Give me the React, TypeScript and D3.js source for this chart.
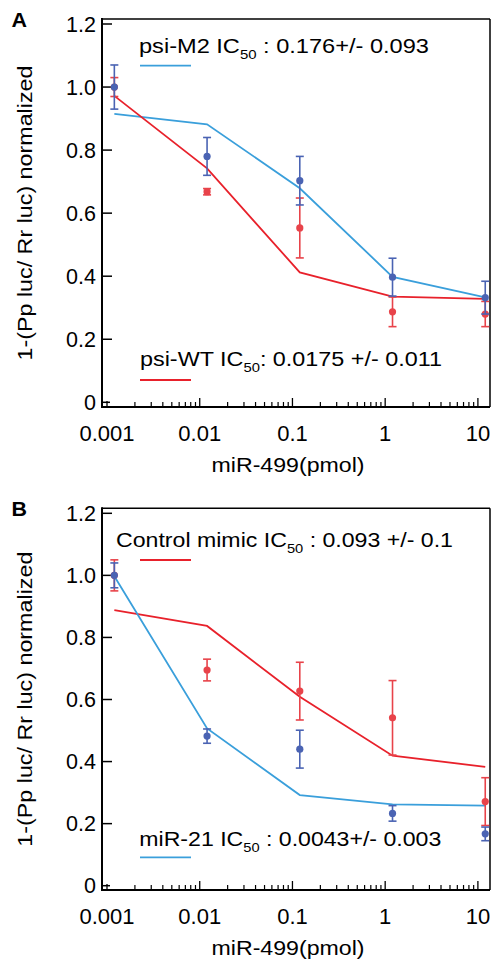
import React from "react";
import * as d3 from "d3";

const doses = [0.0012, 0.012, 0.12, 1.2, 12];
const xTickValues = [0.001, 0.01, 0.1, 1, 10];
const xTickLabels = ["0.001", "0.01", "0.1", "1", "10"];
const yTickValues = [0, 0.2, 0.4, 0.6, 0.8, 1.0, 1.2];
const yTickLabels = ["0", "0.2", "0.4", "0.6", "0.8", "1.0", "1.2"];

// Panel A
const aM2Mean = [1.0, 0.78, 0.703, 0.397, 0.332];
const aM2Err = [0.07, 0.06, 0.077, 0.06, 0.052];
const aM2Fit = [0.915, 0.882, 0.679, 0.398, 0.333];
const aWTMean = [1.0, 0.668, 0.553, 0.287, 0.28];
const aWTErr = [0.03, 0.01, 0.095, 0.047, 0.04];
const aWTFit = [0.972, 0.742, 0.412, 0.335, 0.328];

// Panel B
const bCtrlMean = [1.0, 0.695, 0.627, 0.541, 0.271];
const bCtrlErr = [0.05, 0.035, 0.093, 0.12, 0.077];
const bCtrlFit = [0.888, 0.837, 0.609, 0.419, 0.383];
const bMiR21Mean = [1.0, 0.482, 0.44, 0.233, 0.167];
const bMiR21Err = [0.04, 0.023, 0.061, 0.025, 0.022];
const bMiR21Fit = [0.997, 0.507, 0.292, 0.262, 0.258];

const FONT = "'Liberation Sans', Arial, Helvetica, sans-serif";
const LINE_BLUE = "#3a9fdb";
const PT_BLUE = "#4a63b3";
const LINE_RED = "#e8212b";
const PT_RED = "#e8434a";

type Series = { mean: number[]; err: number[]; color: string };
type Legend = { pre: string; post: string; color: string; tx: number; ty: number; tw: number; lx: number; ly: number };

function Panel(props: {
  label: string;
  frameTop: number;
  axisY: number;
  y0: number;
  y12: number;
  fits: { values: number[]; color: string }[];
  series: Series[];
  legends: Legend[];
}) {
  const { label, frameTop, axisY, y0, y12, fits, series, legends } = props;
  const left = 102;
  const right = 490;
  const x = d3.scaleLog().domain([0.001, 10]).range([107, 477.9]);
  const y = d3.scaleLinear().domain([0, 1.2]).range([y0, y12]);
  const line = d3
    .line<number>()
    .x((_, i) => x(doses[i]))
    .y((d) => y(d));

  const minor: number[] = [];
  for (let e = -3; e <= 1; e++) {
    for (let m = 2; m <= 9; m++) {
      const v = m * Math.pow(10, e);
      if (x(v) < right - 1) minor.push(v);
    }
  }

  return (
    <g>
      <text x={11.5} y={frameTop + 8} fontFamily={FONT} fontWeight="bold" fontSize={20} textLength={15.5} lengthAdjust="spacingAndGlyphs">
        {label}
      </text>
      {/* frame */}
      <line x1={left} x2={right} y1={frameTop} y2={frameTop} stroke="#000" strokeWidth={1.5} />
      <line x1={right} x2={right} y1={frameTop} y2={axisY} stroke="#000" strokeWidth={1.5} />
      <line x1={left} x2={left} y1={frameTop - 1} y2={axisY + 1} stroke="#000" strokeWidth={2} />
      <line x1={left} x2={right} y1={axisY} y2={axisY} stroke="#000" strokeWidth={2} />
      {/* y ticks */}
      {yTickValues.map((v, i) => (
        <g key={"yt" + i}>
          <line x1={left} x2={left + (v === 0 ? 8 : 10)} y1={y(v)} y2={y(v)} stroke="#000" strokeWidth={1.5} />
          <text x={left - 6} y={y(v) + 7.5} textAnchor="end" fontFamily={FONT} fontSize={21.5}>
            {yTickLabels[i]}
          </text>
        </g>
      ))}
      {/* x ticks */}
      {xTickValues.map((v, i) => (
        <g key={"xt" + i}>
          <line x1={x(v)} x2={x(v)} y1={axisY} y2={axisY - (i === 0 ? 6 : 9)} stroke="#000" strokeWidth={1.3} />
          <text x={x(v)} y={axisY + 33.5} textAnchor="middle" fontFamily={FONT} fontSize={22}>
            {xTickLabels[i]}
          </text>
        </g>
      ))}
      {minor.map((v, i) => (
        <line key={"mt" + i} x1={x(v)} x2={x(v)} y1={axisY} y2={axisY - 5} stroke="#000" strokeWidth={1.2} />
      ))}
      <text x={211.5} y={axisY + 64.5} fontFamily={FONT} fontSize={21} textLength={153} lengthAdjust="spacingAndGlyphs">
        miR-499(pmol)
      </text>
      <text
        transform={`translate(32,${(frameTop + axisY) / 2 + 147.5}) rotate(-90)`}
        fontFamily={FONT}
        fontSize={20.5}
        textLength={295}
        lengthAdjust="spacingAndGlyphs"
      >
        1-(Pp luc/ Rr luc) normalized
      </text>
      {/* fit lines */}
      {fits.map((f, i) => (
        <path key={"f" + i} d={line(f.values) || ""} fill="none" stroke={f.color} strokeWidth={1.8} />
      ))}
      {/* points */}
      {series.map((s, si) => (
        <g key={"s" + si}>
          {s.mean.map((m, i) => {
            const cx = x(doses[i]);
            const top = y(m + s.err[i]);
            const bot = y(m - s.err[i]);
            return (
              <g key={i}>
                <line x1={cx} x2={cx} y1={top} y2={bot} stroke={s.color} strokeWidth={1.6} />
                <line x1={cx - 4} x2={cx + 4} y1={top} y2={top} stroke={s.color} strokeWidth={1.6} />
                <line x1={cx - 4} x2={cx + 4} y1={bot} y2={bot} stroke={s.color} strokeWidth={1.6} />
                <circle cx={cx} cy={y(m)} r={3.6} fill={s.color} />
              </g>
            );
          })}
        </g>
      ))}
      {/* legends */}
      {legends.map((l, i) => (
        <g key={"l" + i}>
          <text x={l.tx} y={l.ty} fontFamily={FONT} fontSize={20.5} textLength={l.tw} lengthAdjust="spacingAndGlyphs">
            {l.pre}
            <tspan fontSize={13} dy={6}>50</tspan>
            <tspan dy={-6}>{l.post}</tspan>
          </text>
          <line x1={l.lx} x2={l.lx + 51} y1={l.ly} y2={l.ly} stroke={l.color} strokeWidth={1.8} />
        </g>
      ))}
    </g>
  );
}

export default function App() {
  return (
    <svg
      width={492}
      height={962}
      style={{ position: "absolute", left: 0, top: 0, background: "#fff" }}
    >
      <rect x={0} y={0} width={492} height={962} fill="#fff" />
      <Panel
        label="A"
        frameTop={19}
        axisY={407}
        y0={402.3}
        y12={24}
        fits={[
          { values: aM2Fit, color: LINE_BLUE },
          { values: aWTFit, color: LINE_RED },
        ]}
        series={[
          { mean: aWTMean, err: aWTErr, color: PT_RED },
          { mean: aM2Mean, err: aM2Err, color: PT_BLUE },
        ]}
        legends={[
          { pre: "psi-M2 IC", post: " : 0.176+/- 0.093", color: LINE_BLUE, tx: 139, ty: 53, tw: 290, lx: 140, ly: 65.7 },
          { pre: "psi-WT IC", post: ": 0.0175 +/- 0.011", color: LINE_RED, tx: 140, ty: 366, tw: 302, lx: 140, ly: 380 },
        ]}
      />
      <Panel
        label="B"
        frameTop={508.3}
        axisY={890}
        y0={885.7}
        y12={513.3}
        fits={[
          { values: bCtrlFit, color: LINE_RED },
          { values: bMiR21Fit, color: LINE_BLUE },
        ]}
        series={[
          { mean: bCtrlMean, err: bCtrlErr, color: PT_RED },
          { mean: bMiR21Mean, err: bMiR21Err, color: PT_BLUE },
        ]}
        legends={[
          { pre: "Control mimic IC", post: " : 0.093 +/- 0.1", color: LINE_RED, tx: 116, ty: 546.7, tw: 337, lx: 140, ly: 560 },
          { pre: "miR-21 IC", post: " : 0.0043+/- 0.003", color: LINE_BLUE, tx: 139.3, ty: 846, tw: 302, lx: 140, ly: 857.3 },
        ]}
      />
    </svg>
  );
}
